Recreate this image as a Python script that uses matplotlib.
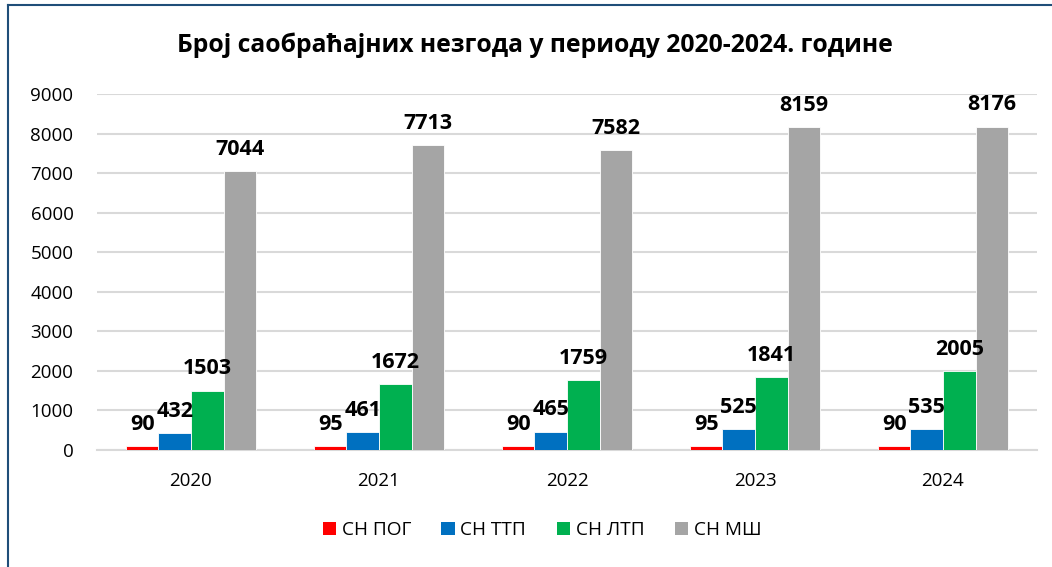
import matplotlib
matplotlib.use("Agg")
import matplotlib.pyplot as plt
import numpy as np
from matplotlib.lines import Line2D
from matplotlib.patches import Patch

years = ["2020", "2021", "2022", "2023", "2024"]
series_names = ["СН ПОГ", "СН ТТП", "СН ЛТП", "СН МШ"]
pog = [90, 95, 90, 95, 90]
ttp = [432, 461, 465, 525, 535]
ltp = [1503, 1672, 1759, 1841, 2005]
msh = [7044, 7713, 7582, 8159, 8176]
colors = ["#ff0000", "#0070c0", "#00b050", "#a5a5a5"]
yticks = [0, 1000, 2000, 3000, 4000, 5000, 6000, 7000, 8000, 9000]

plt.rcParams['font.family'] = ['Open Sans', 'DejaVu Sans']

W, H = 1052, 567
fig = plt.figure(figsize=(W/100, H/100), dpi=100)
ax = fig.add_axes([97/W, 1-450/H, (1037-97)/W, (450-94)/H])

x = np.arange(len(years))
bw = 0.173
data = [pog, ttp, ltp, msh]
for i, (vals, c) in enumerate(zip(data, colors)):
    pos = x + (i - 1.5) * bw
    ax.bar(pos, vals, width=bw, color=c, edgecolor="white", linewidth=0.6, zorder=3)
    for p, v in zip(pos, vals):
        ax.annotate(str(v), (p, v), xytext=(0, 8), textcoords="offset points",
                    ha="center", va="bottom", fontsize=15.5, fontweight="bold",
                    color="black", zorder=4)

ax.set_xlim(-0.5, len(years) - 0.5)
ax.set_ylim(0, 9000)
ax.set_yticks(yticks)
ax.set_yticklabels([str(t) for t in yticks], fontsize=13.5)
ax.set_xticks(x)
ax.set_xticklabels(years, fontsize=13.5)
ax.tick_params(axis='both', length=0)
ax.tick_params(axis='x', pad=16)
ax.tick_params(axis='y', pad=17)
ax.grid(axis='y', color="#d9d9d9", linewidth=1.5, zorder=0)
for s in ["top", "right", "left"]:
    ax.spines[s].set_visible(False)
ax.spines["bottom"].set_color("#d9d9d9")
ax.spines["bottom"].set_linewidth(1.5)

fig.text(535/W, 1-45/H, "Број саобраћајних незгода у периоду 2020-2024. године",
         ha="center", va="center", fontsize=17.8, fontweight="bold")

handles = [Patch(facecolor=c, edgecolor="none") for c in colors]
fig.legend(handles, series_names, loc="center", bbox_to_anchor=(542/W, 1-530/H),
           ncol=4, frameon=False, fontsize=13.7, handlelength=0.7, handleheight=0.7,
           handletextpad=0.3, columnspacing=1.6)

fig.add_artist(Line2D([8/W, 8/W], [0, 1-5/H], color="#1f4e79", linewidth=1.5, transform=fig.transFigure))
fig.add_artist(Line2D([8/W, 1], [1-5/H, 1-5/H], color="#1f4e79", linewidth=1.5, transform=fig.transFigure))

fig.savefig("out.png", dpi=100)
